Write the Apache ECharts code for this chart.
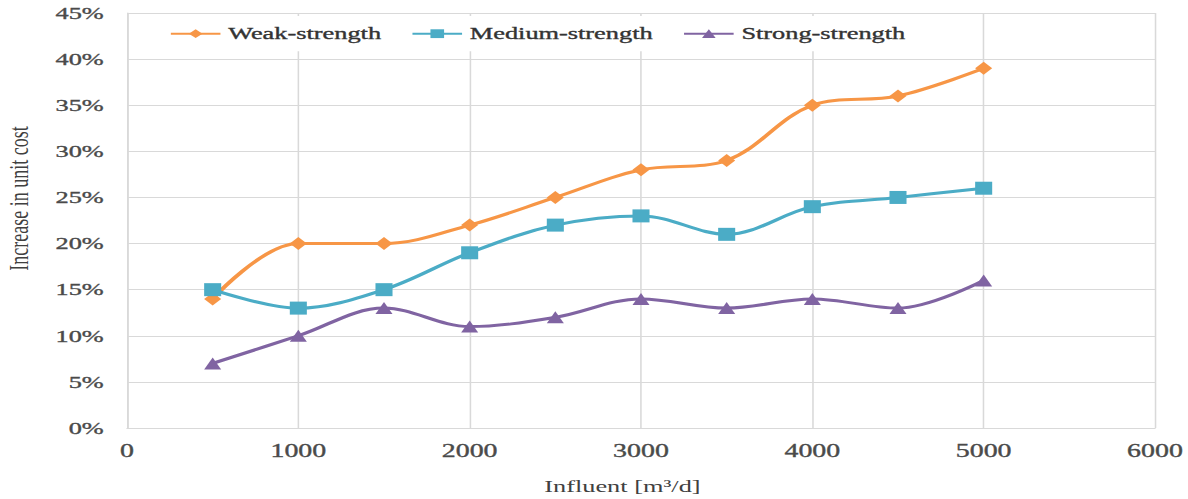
<!DOCTYPE html>
<html>
<head>
<meta charset="utf-8">
<script src="https://cdn.jsdelivr.net/npm/echarts@6/dist/echarts.min.js"></script>
<style>
html,body{margin:0;padding:0;background:#fff;overflow:hidden;}
#chart{height:499px;transform-origin:0 0;}
</style>
</head>
<body>
<div id="chart"></div>
<script>
// Data
const influent = [500, 1000, 1500, 2000, 2500, 3000, 3500, 4000, 4500, 5000];
const weakStrength = [14, 20, 20, 22, 25, 28, 29, 35, 36, 39];
const mediumStrength = [15, 13, 15, 19, 22, 23, 21, 24, 25, 26];
const strongStrength = [7, 10, 13, 11, 12, 14, 13, 14, 13, 16];
const seriesNames = ['Weak-strength', 'Medium-strength', 'Strong-strength'];
const xAxisTitle = 'Influent [m\u00B3/d]';
const yAxisTitle = 'Increase in unit cost';

// The reference is horizontally stretched; render narrower and stretch.
const S = 1.55;
const W = 1188 / S;
const el = document.getElementById('chart');
el.style.width = W + 'px';
el.style.transform = 'scaleX(' + S + ')';

const pairs = (ys) => influent.map((x, i) => [x, ys[i]]);
const font = 'Liberation Serif';
const gridColor = '#d9d9d9';
const labelColor = '#4a4a4a';

const chart = echarts.init(el, null, {renderer: 'svg', width: W, height: 499});
chart.setOption({
  animation: false,
  backgroundColor: '#fff',
  grid: {left: 127 / S, right: W - 1155 / S, top: 13, bottom: 71, containLabel: false, outerBoundsMode: 'none'},
  legend: {
    left: 160 / S, top: 16,
    backgroundColor: '#fff',
    padding: [9, 14, 9, 6],
    itemWidth: 32, itemHeight: 11, itemGap: 19,
    textStyle: {fontFamily: font, fontSize: 17, color: '#333', textBorderColor: '#333', textBorderWidth: 0.35},
    data: seriesNames
  },
  xAxis: {
    type: 'value', min: 0, max: 6000, interval: 1000,
    name: xAxisTitle, nameLocation: 'middle', nameGap: 50,
    nameTextStyle: {fontFamily: font, fontSize: 17, color: '#404040', padding: [0, 24, 0, 0]},
    axisLine: {show: true, lineStyle: {color: gridColor}},
    axisTick: {show: false},
    axisLabel: {fontFamily: font, fontSize: 18, color: labelColor, margin: 14,
                textBorderColor: labelColor, textBorderWidth: 0.35,
                formatter: (v) => String(v)},
    splitLine: {show: true, lineStyle: {color: gridColor, width: 1}}
  },
  yAxis: {
    type: 'value', min: 0, max: 45, interval: 5,
    name: yAxisTitle, nameLocation: 'middle', nameGap: 61, nameRotate: 90,
    nameTextStyle: {fontFamily: font, fontSize: 18, color: '#404040', padding: [0, 0, 0, 44]},
    axisLine: {show: true, lineStyle: {color: gridColor}},
    axisTick: {show: false},
    axisLabel: {fontFamily: font, fontSize: 17, color: labelColor, margin: 15,
                textBorderColor: labelColor, textBorderWidth: 0.35, formatter: '{value}%'},
    splitLine: {show: true, lineStyle: {color: gridColor, width: 1}}
  },
  series: [
    {name: seriesNames[0], type: 'line', data: pairs(weakStrength), smooth: 0.35,
     symbol: 'diamond', symbolSize: [11, 13],
     itemStyle: {color: '#F79646'}, lineStyle: {color: '#F79646', width: 3}, z: 3},
    {name: seriesNames[1], type: 'line', data: pairs(mediumStrength), smooth: 0.35,
     symbol: 'rect', symbolSize: [11, 13],
     itemStyle: {color: '#4BACC6'}, lineStyle: {color: '#4BACC6', width: 3}, z: 4},
    {name: seriesNames[2], type: 'line', data: pairs(strongStrength), smooth: 0.35,
     symbol: 'triangle', symbolSize: [11, 12],
     itemStyle: {color: '#8064A2'}, lineStyle: {color: '#8064A2', width: 3}, z: 5}
  ]
});
</script>
</body>
</html>
